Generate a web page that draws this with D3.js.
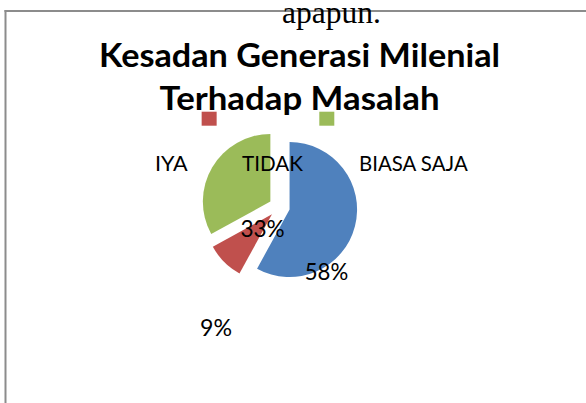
<!DOCTYPE html>
<html>
<head>
<meta charset="utf-8">
<script src="https://cdn.jsdelivr.net/npm/d3@7"></script>
<style>
  html, body { margin: 0; padding: 0; background: #fff; }
  svg { display: block; }
</style>
</head>
<body>
<svg id="chart"></svg>
<script>
// chart data
const categories = ["IYA", "TIDAK", "BIASA SAJA"];
const values = [58, 9, 33];
const colors = ["#4F81BD", "#C0504D", "#9BBB59"];
const titleLines = ["Kesadan Generasi Milenial", "Terhadap Masalah"];
const aboveText = "apapun.";

// data label placement (polar, relative to pie centre: degrees clockwise from top, radius in px)
const labelAngles = [144, 207.5, 217];
const labelRadii = [80, 137, 28];

const width = 586, height = 403;
const svg = d3.select("#chart").attr("width", width).attr("height", height);

const cx = 279.4, cy = 206.9, r = 67.5, explode = 10.5;

// frame of the embedded chart
svg.append("line")
  .attr("x1", 4.5).attr("x2", width).attr("y1", 11).attr("y2", 11)
  .attr("stroke", "#8c8c8c").attr("stroke-width", 2);
svg.append("line")
  .attr("x1", 5.5).attr("x2", 5.5).attr("y1", 10).attr("y2", height)
  .attr("stroke", "#8c8c8c").attr("stroke-width", 2);

// text from the document behind
svg.append("text")
  .attr("x", 282).attr("y", 22.7)
  .attr("font-family", "Liberation Serif, Times New Roman, serif")
  .attr("font-size", 31.5)
  .attr("fill", "#000")
  .text(aboveText);

// title
const titleWidths = [401, 280];
svg.selectAll(".title")
  .data(titleLines)
  .join("text")
  .attr("class", "title")
  .attr("x", 299.5)
  .attr("y", (d, i) => 66.7 + i * 43.4)
  .attr("text-anchor", "middle")
  .attr("font-family", "Lato, sans-serif")
  .attr("font-weight", "bold")
  .attr("font-size", 33)
  .attr("textLength", (d, i) => titleWidths[i])
  .attr("lengthAdjust", "spacingAndGlyphs")
  .text((d) => d);

// pie
const pie = d3.pie().sort(null).value((d) => d);
const arcs = pie(values);
const arc = d3.arc().innerRadius(0).outerRadius(r);

const g = svg.append("g").attr("transform", `translate(${cx},${cy})`);
g.selectAll("path")
  .data(arcs)
  .join("path")
  .attr("d", arc)
  .attr("fill", (d, i) => colors[i])
  .attr("transform", (d) => {
    const mid = (d.startAngle + d.endAngle) / 2;
    return `translate(${explode * Math.sin(mid)},${-explode * Math.cos(mid)})`;
  });

// legend: markers sit above-left of the labels; first marker is hidden in the original
const legendX = d3.scalePoint().domain(categories).range([84, 319.3]);
svg.selectAll(".legend-sq")
  .data(categories.slice(1))
  .join("rect")
  .attr("class", "legend-sq")
  .attr("x", (d) => legendX(d))
  .attr("y", 111.7)
  .attr("width", 15)
  .attr("height", 14)
  .attr("fill", (d) => colors[categories.indexOf(d)]);

const labelStarts = [155, 242, 359];
const labelWidths = [32.7, 61, 108.7];
svg.selectAll(".legend-label")
  .data(categories)
  .join("text")
  .attr("class", "legend-label")
  .attr("x", (d, i) => labelStarts[i])
  .attr("y", 170.7)
  .attr("font-family", "Lato, sans-serif")
  .attr("font-size", 20.5)
  .attr("fill", "#000")
  .attr("textLength", (d, i) => labelWidths[i])
  .attr("lengthAdjust", "spacingAndGlyphs")
  .text((d) => d);

// percentage labels
const total = d3.sum(values);
const pctWidths = [43.5, 32, 44.3];
svg.selectAll(".pct")
  .data(arcs)
  .join("text")
  .attr("class", "pct")
  .attr("x", (d, i) => cx + labelRadii[i] * Math.sin(labelAngles[i] * Math.PI / 180))
  .attr("y", (d, i) => cy - labelRadii[i] * Math.cos(labelAngles[i] * Math.PI / 180) + 8)
  .attr("text-anchor", "middle")
  .attr("font-family", "Lato, sans-serif")
  .attr("font-size", 22.5)
  .attr("fill", "#000")
  .attr("textLength", (d, i) => pctWidths[i])
  .attr("lengthAdjust", "spacingAndGlyphs")
  .text((d) => Math.round(d.value / total * 100) + "%");
</script>
</body>
</html>
